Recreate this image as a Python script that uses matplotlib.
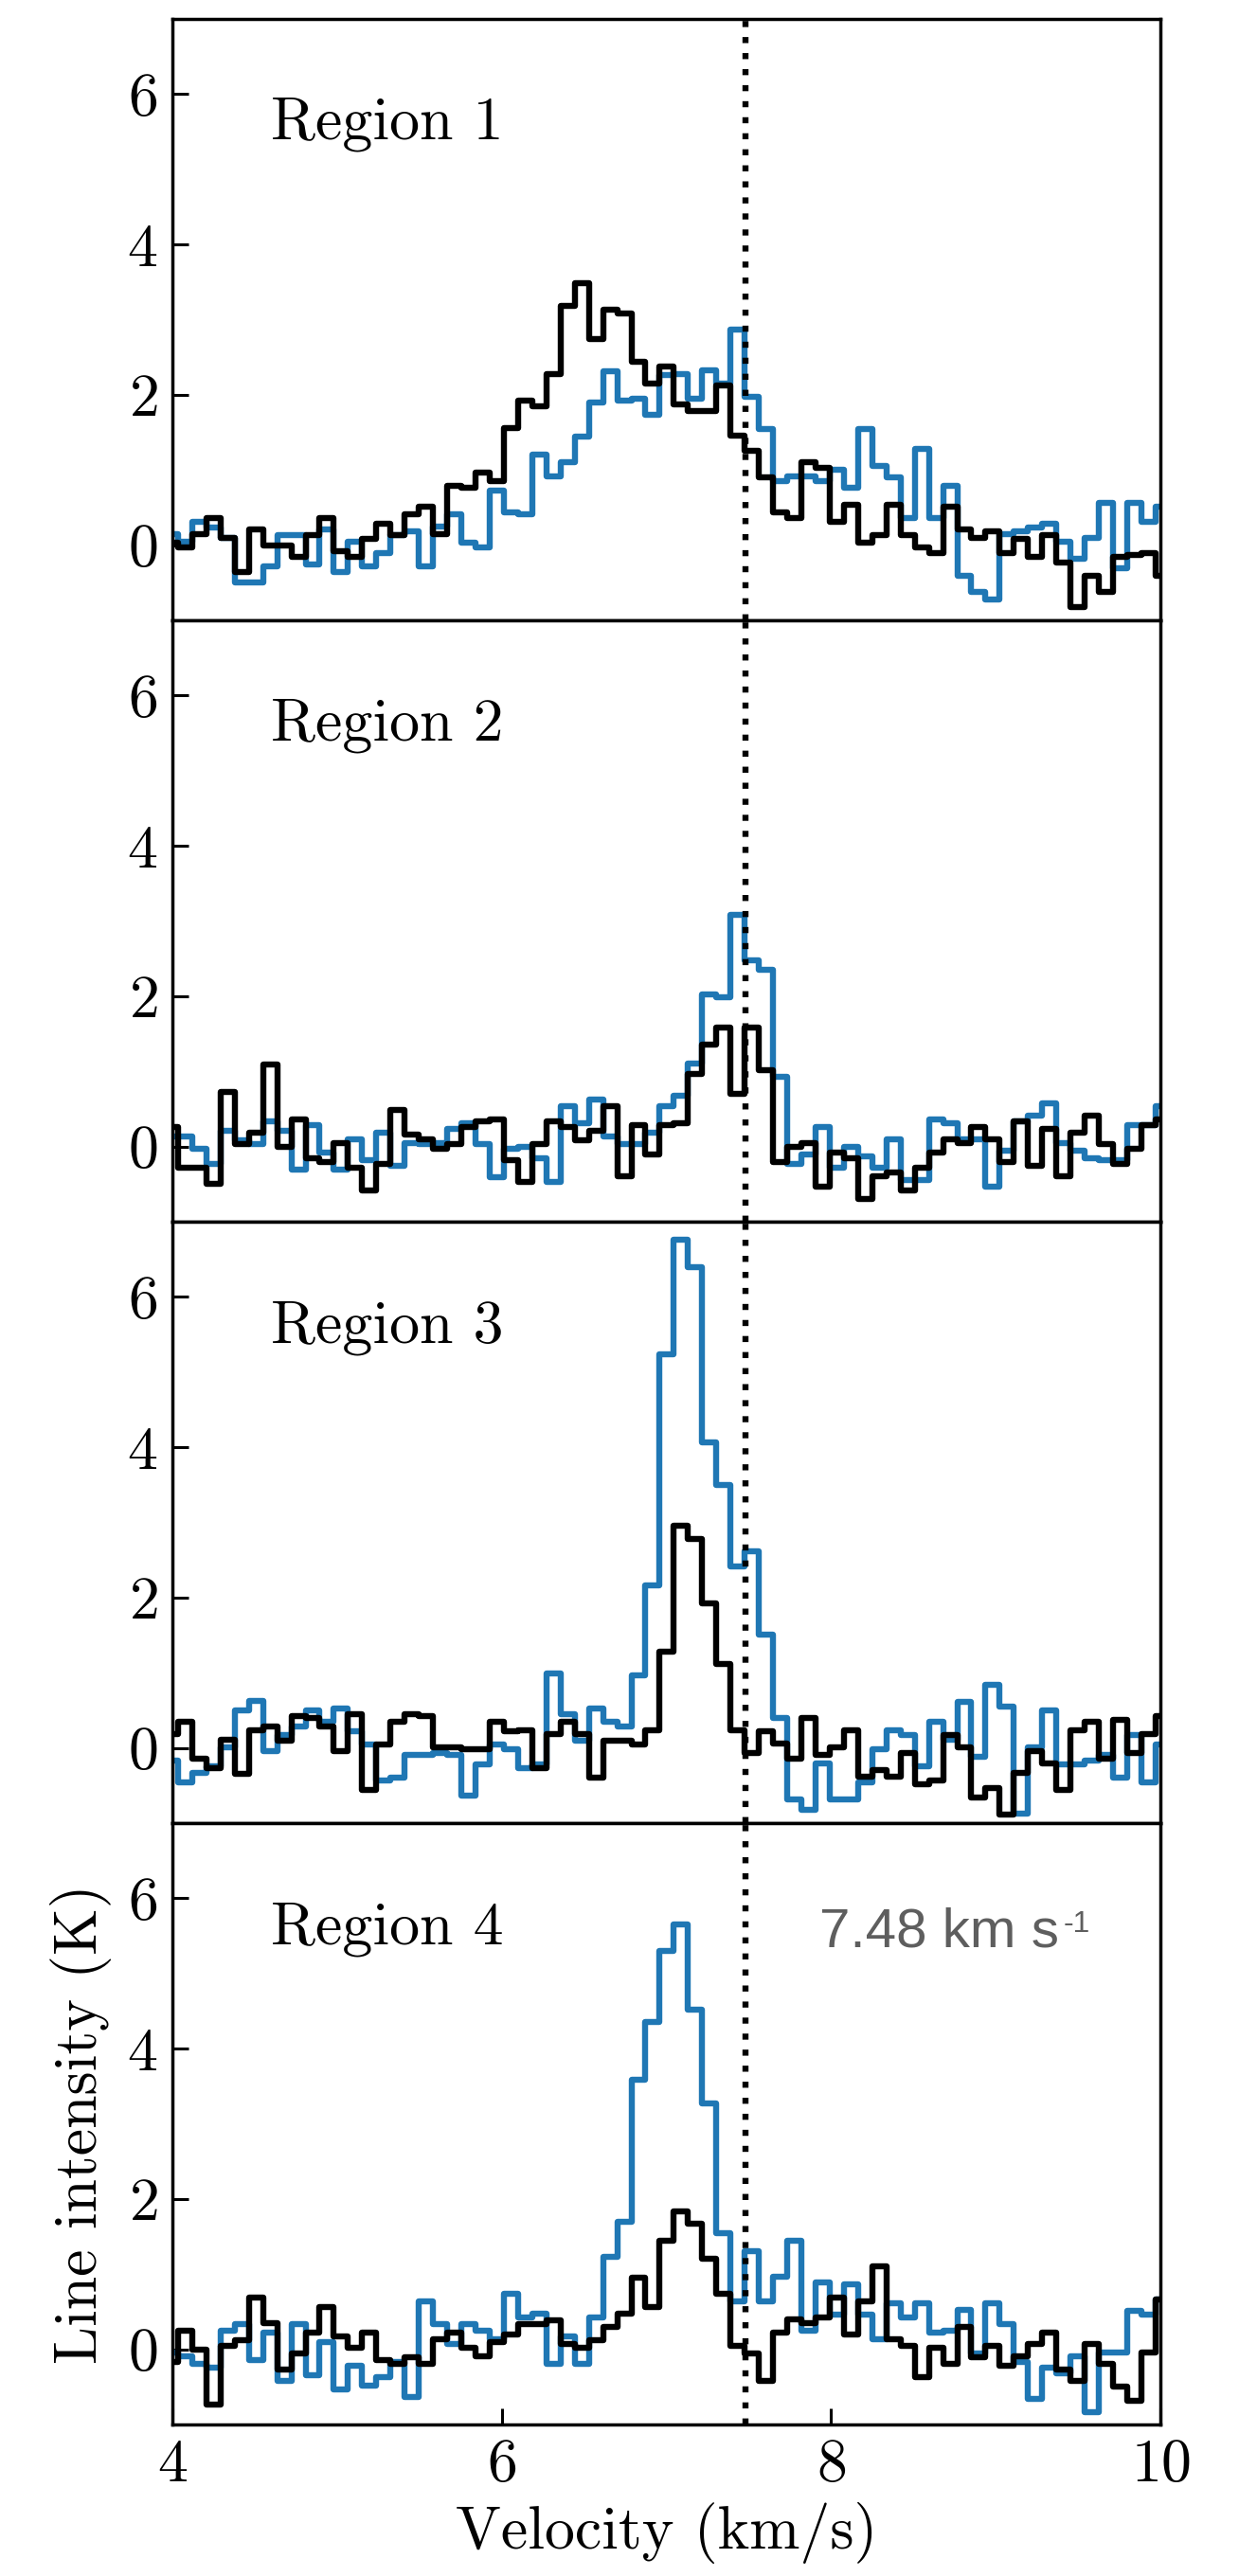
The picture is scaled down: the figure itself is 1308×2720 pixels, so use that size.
import numpy as np
import matplotlib
matplotlib.use('Agg')
import matplotlib.pyplot as plt

plt.rcParams['font.family'] = 'serif'
plt.rcParams['font.serif'] = ['cmr10']
plt.rcParams['mathtext.fontset'] = 'cm'
plt.rcParams['axes.unicode_minus'] = False
plt.rcParams['axes.formatter.use_mathtext'] = True

region_names = ['Region 1', 'Region 2', 'Region 3', 'Region 4']
v_sys = 7.48
v_sys_label = '7.48 km s'
v_sys_sup = '-1'
v_first = 3.992
channel_width = 0.086
n_channels = 71
velocity = v_first + channel_width * np.arange(n_channels)

blue_r1 = [0.15, 0.05, 0.31, 0.23, 0.10, -0.49, -0.49, -0.28, 0.13, 0.13,
           -0.26, 0.21, -0.36, 0.05, -0.28, -0.10, 0.13, 0.18, -0.28, 0.25,
           0.41, 0.03, -0.03, 0.72, 0.44, 0.41, 1.21, 0.92, 1.10, 1.44,
           1.90, 2.31, 1.92, 1.95, 1.74, 2.26, 2.28, 1.95, 2.33, 2.15,
           2.87, 1.97, 1.54, 0.85, 0.92, 0.92, 0.85, 1.00, 0.77, 1.54,
           1.05, 0.90, 0.36, 1.28, 0.36, 0.79, -0.41, -0.62, -0.72, 0.15,
           0.18, 0.23, 0.28, 0.05, -0.18, 0.10, 0.56, -0.31, 0.56, 0.31, 0.51]
black_r1 = [0.03, -0.03, 0.15, 0.36, 0.10, -0.36, 0.21, 0.00, 0.00, -0.15,
            0.13, 0.36, -0.08, -0.15, 0.08, 0.28, 0.13, 0.41, 0.51, 0.15,
            0.79, 0.77, 0.97, 0.85, 1.56, 1.92, 1.85, 2.28, 3.18, 3.49,
            2.74, 3.13, 3.08, 2.44, 2.15, 2.38, 1.87, 1.79, 1.79, 2.13,
            1.46, 1.26, 0.90, 0.44, 0.36, 1.10, 1.03, 0.31, 0.54, 0.03,
            0.13, 0.54, 0.13, -0.03, -0.10, 0.51, 0.21, 0.10, 0.18, -0.10,
            0.08, -0.15, 0.13, -0.23, -0.82, -0.41, -0.62, -0.15, -0.13, -0.10, -0.41]

blue_r2 = [0.13, 0.13, -0.03, -0.23, 0.21, 0.08, 0.03, 0.34, 0.21, -0.31,
           0.28, -0.08, -0.31, 0.10, -0.18, 0.18, -0.26, 0.05, 0.03, 0.05,
           0.23, 0.31, 0.03, -0.41, -0.03, 0.00, -0.16, -0.47, 0.54, 0.31,
           0.62, 0.13, 0.03, 0.03, 0.18, 0.54, 0.67, 1.11, 2.02, 1.99,
           3.08, 2.48, 2.35, 0.93, -0.23, -0.10, 0.26, -0.28, 0.00, -0.13,
           -0.28, 0.10, -0.44, -0.44, 0.36, 0.31, 0.10, 0.10, -0.54, -0.05,
           0.34, 0.41, 0.57, 0.05, -0.05, -0.16, -0.18, -0.18, 0.28, 0.28, 0.54]
black_r2 = [0.26, -0.28, -0.28, -0.49, 0.72, 0.03, 0.18, 1.09, 0.00, 0.36,
            -0.16, -0.21, 0.05, -0.28, -0.59, -0.23, 0.49, 0.16, 0.10, -0.03,
            0.03, 0.26, 0.34, 0.36, -0.18, -0.47, 0.03, 0.34, 0.26, 0.08,
            0.21, 0.54, -0.39, 0.28, -0.10, 0.28, 0.31, 0.96, 1.35, 1.58,
            0.70, 1.58, 1.01, -0.21, 0.00, 0.05, -0.54, -0.08, -0.16, -0.70,
            -0.39, -0.34, -0.59, -0.28, -0.08, 0.10, 0.05, 0.26, 0.10, -0.21,
            0.34, -0.26, 0.23, -0.39, 0.18, 0.41, 0.03, -0.23, -0.03, 0.28, 0.36]

blue_r3 = [-0.17, -0.46, -0.33, -0.25, 0.01, 0.50, 0.63, -0.04, 0.17, 0.29,
           0.50, 0.35, 0.53, 0.22, 0.04, -0.43, -0.40, -0.09, -0.09, -0.07,
           -0.09, -0.64, -0.22, 0.04, -0.02, -0.27, -0.22, 0.99, 0.45, 0.09,
           0.53, 0.35, 0.29, 0.97, 2.16, 5.23, 6.76, 6.40, 4.07, 3.50,
           2.42, 2.62, 1.51, 0.40, -0.69, -0.82, -0.20, -0.69, -0.69, -0.46,
           -0.02, 0.24, 0.17, -0.25, 0.35, 0.11, 0.61, -0.12, 0.84, 0.55,
           -0.87, 0.01, 0.50, -0.22, -0.22, -0.17, -0.09, -0.40, 0.17, -0.46, 0.04]
black_r3 = [0.19, 0.35, -0.14, -0.27, 0.11, -0.35, 0.24, 0.29, 0.09, 0.42,
            0.40, 0.29, -0.04, 0.45, -0.56, 0.04, 0.35, 0.45, 0.42, 0.01,
            0.01, -0.02, -0.02, 0.35, 0.22, 0.24, -0.27, 0.19, 0.35, 0.19,
            -0.40, 0.09, 0.09, 0.04, 0.24, 1.28, 2.96, 2.78, 1.92, 1.12,
            0.24, -0.07, 0.22, 0.06, -0.14, 0.40, -0.09, 0.01, 0.24, -0.38,
            -0.30, -0.38, -0.07, -0.48, -0.43, 0.17, 0.01, -0.66, -0.53, -0.89,
            -0.33, -0.04, -0.20, -0.56, 0.24, 0.35, -0.14, 0.37, -0.07, 0.19, 0.42]

blue_r4 = [-0.04, -0.09, -0.19, -0.24, 0.25, 0.33, -0.14, 0.22, -0.42, 0.33,
           -0.35, 0.09, -0.53, -0.22, -0.48, -0.37, -0.17, -0.63, 0.64, 0.33,
           0.07, 0.33, 0.25, 0.14, 0.74, 0.43, 0.48, -0.19, 0.17, -0.19,
           0.43, 1.23, 1.70, 3.59, 4.36, 5.30, 5.65, 4.52, 3.27, 1.54,
           0.64, 1.31, 0.64, 0.97, 1.44, 0.25, 0.89, 0.46, 0.87, 0.46,
           0.14, 0.61, 0.43, 0.61, 0.22, 0.25, 0.53, -0.06, 0.61, 0.33,
           -0.17, -0.66, -0.24, -0.32, -0.09, -0.84, -0.04, -0.04, 0.51, 0.46, 0.66]
black_r4 = [-0.17, 0.25, -0.01, -0.73, 0.04, 0.12, 0.69, 0.35, -0.27, -0.06,
            0.22, 0.56, 0.17, 0.02, 0.22, -0.14, -0.19, -0.11, -0.19, 0.14,
            0.22, 0.02, -0.09, 0.09, 0.20, 0.33, 0.33, 0.38, 0.07, 0.02,
            0.12, 0.30, 0.48, 0.95, 0.56, 1.45, 1.83, 1.67, 1.21, 0.74,
            0.04, -0.06, -0.42, 0.22, 0.40, 0.35, 0.43, 0.69, 0.20, 0.64,
            1.10, 0.14, 0.04, -0.37, 0.02, -0.19, 0.30, -0.11, 0.04, -0.22,
            -0.09, 0.07, 0.22, -0.27, -0.42, 0.07, -0.19, -0.50, -0.68, -0.04, 0.66]

blue_series = [blue_r1, blue_r2, blue_r3, blue_r4]
black_series = [black_r1, black_r2, black_r3, black_r4]
y_ticks = [0, 2, 4, 6]
x_ticks = [4, 6, 8, 10]

FS = 46
LW = 4.6

fig, axes = plt.subplots(4, 1, figsize=(13.08, 27.2), dpi=100, sharex=True)
fig.subplots_adjust(left=0.1390, right=0.9368, top=0.99265, bottom=0.05882, hspace=0)

for ax, name, b, k in zip(axes, region_names, blue_series, black_series):
    ax.step(velocity, b, where='mid', color='#1f77b4', lw=LW)
    ax.step(velocity, k, where='mid', color='black', lw=LW)
    ax.axvline(v_sys, color='black', ls=':', lw=LW)
    ax.set_xlim(4, 10)
    ax.set_ylim(-1, 7)
    ax.set_yticks(y_ticks)
    ax.set_xticks(x_ticks)
    ax.text(4.60, 5.40, name, fontsize=FS, va='baseline')
    ax.tick_params(axis='both', direction='in', length=12, width=2.2,
                   labelsize=FS, pad=11, right=False, top=False)
    for s in ax.spines.values():
        s.set_linewidth(2.5)

for ax in axes[:-1]:
    ax.tick_params(axis='x', bottom=False, labelbottom=False)

ax4 = axes[-1]
ax4.set_xlabel('Velocity (km/s)', fontsize=FS, labelpad=6)
ax4.set_ylabel('Line intensity (K)', fontsize=FS, labelpad=12)

gray = '#5e5e5e'
t = ax4.text(7.93, 5.35, v_sys_label, fontsize=42, family='Liberation Sans',
             color=gray, va='baseline')

fig.canvas.draw()
bb = t.get_window_extent()
base_y = ax4.transData.transform((7.93, 5.35))[1]
fig.text(bb.x1 + 4, base_y + 16, v_sys_sup, transform=None,
         fontsize=23, family='Liberation Sans', color=gray,
         va='baseline', ha='left')

fig.savefig('out.png', dpi=100)
